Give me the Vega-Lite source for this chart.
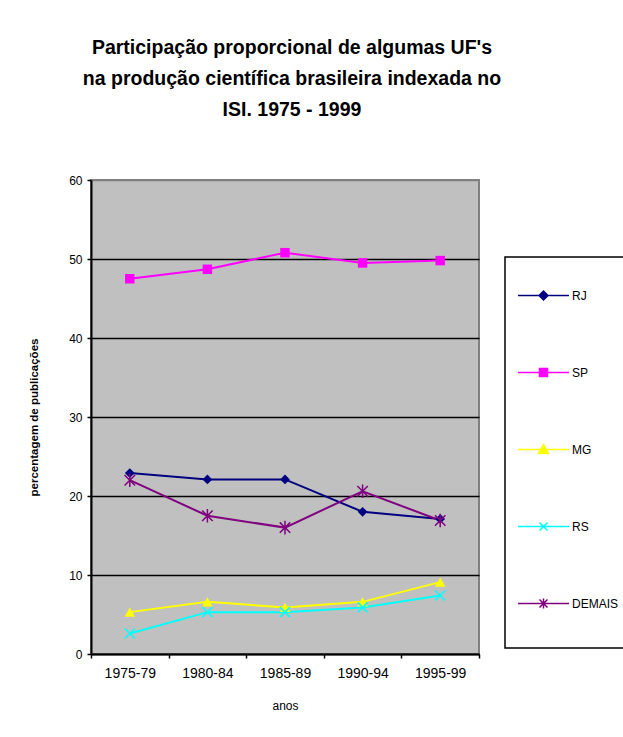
{
  "$schema": "https://vega.github.io/schema/vega-lite/v6.json",
  "width": 388,
  "height": 474,
  "autosize": {"type": "none"},
  "padding": {"left": 91, "top": 180, "right": 144, "bottom": 83},
  "background": "white",
  "title": {
    "text": ["Participação proporcional de algumas UF's", "na produção científica brasileira indexada no", "ISI. 1975 - 1999"],
    "font": "Liberation Sans",
    "fontSize": 19.5,
    "fontWeight": "bold",
    "lineHeight": 31,
    "anchor": "middle",
    "offset": 54,
    "dx": 7,
    "color": "black"
  },
  "config": {
    "view": {"fill": "#C0C0C0", "stroke": "#808080", "strokeWidth": 2},
    "axis": {"labelFont": "Liberation Sans", "titleFont": "Liberation Sans", "labelColor": "black", "titleColor": "black", "domainColor": "black", "tickColor": "black"},
    "legend": {"labelFont": "Liberation Sans", "titleFont": "Liberation Sans"}
  },
  "data": {
    "values": [
      {"periodo": "1975-79", "uf": "RJ", "valor": 22.9},
      {"periodo": "1980-84", "uf": "RJ", "valor": 22.1},
      {"periodo": "1985-89", "uf": "RJ", "valor": 22.1},
      {"periodo": "1990-94", "uf": "RJ", "valor": 18.0},
      {"periodo": "1995-99", "uf": "RJ", "valor": 17.1},
      {"periodo": "1975-79", "uf": "SP", "valor": 47.5},
      {"periodo": "1980-84", "uf": "SP", "valor": 48.7},
      {"periodo": "1985-89", "uf": "SP", "valor": 50.8},
      {"periodo": "1990-94", "uf": "SP", "valor": 49.5},
      {"periodo": "1995-99", "uf": "SP", "valor": 49.8},
      {"periodo": "1975-79", "uf": "MG", "valor": 5.3},
      {"periodo": "1980-84", "uf": "MG", "valor": 6.6},
      {"periodo": "1985-89", "uf": "MG", "valor": 5.9},
      {"periodo": "1990-94", "uf": "MG", "valor": 6.6},
      {"periodo": "1995-99", "uf": "MG", "valor": 9.1},
      {"periodo": "1975-79", "uf": "RS", "valor": 2.6},
      {"periodo": "1980-84", "uf": "RS", "valor": 5.3},
      {"periodo": "1985-89", "uf": "RS", "valor": 5.3},
      {"periodo": "1990-94", "uf": "RS", "valor": 5.9},
      {"periodo": "1995-99", "uf": "RS", "valor": 7.4},
      {"periodo": "1975-79", "uf": "DEMAIS", "valor": 22.0},
      {"periodo": "1980-84", "uf": "DEMAIS", "valor": 17.5},
      {"periodo": "1985-89", "uf": "DEMAIS", "valor": 16.0},
      {"periodo": "1990-94", "uf": "DEMAIS", "valor": 20.6},
      {"periodo": "1995-99", "uf": "DEMAIS", "valor": 16.9}
    ]
  },
  "encoding": {
    "x": {
      "field": "periodo",
      "type": "ordinal",
      "bandPosition": 0.5,
      "scale": {"type": "band", "paddingInner": 0, "paddingOuter": 0},
      "axis": {
        "title": "anos",
        "titleFontSize": 12,
        "titleFontWeight": "normal",
        "titlePadding": 20,
        "labelAngle": 0,
        "labelFontSize": 14,
        "labelPadding": 8,
        "tickBand": "extent",
        "tickSize": 4,
        "tickWidth": 1.5,
        "domainWidth": 2
      }
    },
    "y": {
      "field": "valor",
      "type": "quantitative",
      "scale": {"domain": [0, 60], "nice": false},
      "axis": {
        "title": "percentagem de publicações",
        "titleFontSize": 11.5,
        "titleFontWeight": "bold",
        "titlePadding": 29,
        "values": [0, 10, 20, 30, 40, 50, 60],
        "labelFontSize": 12,
        "labelPadding": 5,
        "tickSize": 4,
        "tickWidth": 1.5,
        "domainWidth": 2,
        "grid": true,
        "gridColor": {"condition": {"test": "datum.value === 60", "value": "#808080"}, "value": "black"},
        "gridWidth": 1.5,
        "gridOpacity": 1
      }
    },
    "color": {
      "field": "uf",
      "type": "nominal",
      "scale": {"domain": ["RJ", "SP", "MG", "RS", "DEMAIS"], "range": ["#000080", "#FF00FF", "#FFFF00", "#00FFFF", "#800080"]},
      "legend": {
        "title": " ",
        "titleOrient": "bottom",
        "titleFontSize": 12,
        "titlePadding": 13,
        "orient": "none",
        "legendX": 414,
        "legendY": 77,
        "strokeColor": "black",
        "fillColor": "white",
        "padding": 12,
        "symbolSize": 2601,
        "symbolStrokeWidth": 1.5,
        "labelFontSize": 12,
        "labelColor": "black",
        "labelOffset": 2,
        "rowPadding": 43,
        "encode": {
          "legend": {"update": {"strokeWidth": {"value": 1.5}}},
          "symbols": {
            "update": {
              "shape": {"signal": "datum.value === 'RJ' ? 'M-1,0H1M-0.176,0L0,-0.176L0.176,0L0,0.176Z' : datum.value === 'SP' ? 'M-1,0H1M-0.157,-0.157H0.157V0.157H-0.157Z' : datum.value === 'MG' ? 'M-1,0H1M0,-0.196L0.196,0.157H-0.196Z' : datum.value === 'RS' ? 'M-1,0H1M-0.157,-0.157L0.157,0.157M-0.157,0.157L0.157,-0.157' : 'M-1,0H1M-0.157,-0.157L0.157,0.157M-0.157,0.157L0.157,-0.157M0,-0.2V0.2'"},
              "stroke": {"signal": "scale('color', datum.value)"},
              "fill": {"signal": "scale('color', datum.value)"}
            }
          }
        }
      }
    }
  },
  "layer": [
    {"mark": {"type": "line", "strokeWidth": 2}},
    {
      "transform": [{"filter": {"field": "uf", "equal": "RJ"}}],
      "mark": {"type": "point", "shape": "diamond", "filled": true, "size": 95, "opacity": 1}
    },
    {
      "transform": [{"filter": {"field": "uf", "equal": "SP"}}],
      "mark": {"type": "point", "shape": "square", "filled": true, "size": 90, "opacity": 1}
    },
    {
      "transform": [{"filter": {"field": "uf", "equal": "MG"}}],
      "mark": {"type": "point", "shape": "triangle-up", "filled": true, "size": 110, "opacity": 1}
    },
    {
      "transform": [{"filter": {"field": "uf", "equal": "RS"}}],
      "mark": {"type": "point", "shape": "M-1,-1L1,1M-1,1L1,-1", "filled": false, "size": 100, "strokeWidth": 1.5, "opacity": 1}
    },
    {
      "transform": [{"filter": {"field": "uf", "equal": "DEMAIS"}}],
      "mark": {"type": "point", "shape": "M-1,-1L1,1M-1,1L1,-1M0,-1.3V1.3", "filled": false, "size": 110, "strokeWidth": 1.5, "opacity": 1}
    }
  ]
}
